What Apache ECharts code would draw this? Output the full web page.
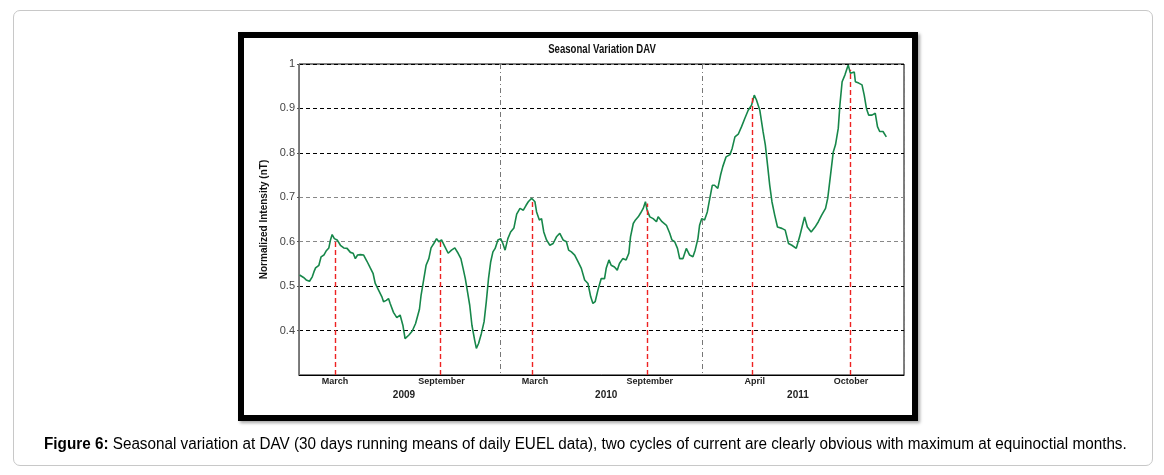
<!DOCTYPE html>
<html>
<head>
<meta charset="utf-8">
<script src="https://cdn.jsdelivr.net/npm/echarts@6/dist/echarts.min.js"></script>
<style>
  html, body { margin: 0; padding: 0; background: #fff; }
  #wrap { position: relative; width: 1164px; height: 475px; overflow: hidden; }
  #outer { position: absolute; left: 13px; top: 10px; width: 1138px; height: 454px; border: 1px solid #c8c8c8; border-radius: 7px; }
  #frame { position: absolute; left: 238px; top: 32px; width: 668px; height: 377px; border: 6px solid #000; box-shadow: 2px 2px 3px rgba(0,0,0,0.35); }
  #chart { position: absolute; left: 0; top: 0; width: 1164px; height: 475px; }
  #caption { position: absolute; left: 44px; top: 435px; font-family: "Liberation Sans", Arial, sans-serif; font-size: 16px; color: #000; white-space: nowrap; transform-origin: 0 50%; }
  #caption b { font-weight: bold; }
</style>
</head>
<body>
<div id="wrap">
  <div id="outer"></div>
  <div id="frame"></div>
  <div id="chart"></div>
  <div id="caption"><b>Figure 6:</b> Seasonal variation at DAV (30 days running means of daily EUEL data), two cycles of current are clearly obvious with maximum at equinoctial months.</div>
</div>
<script>
// Day index counted from 1 January 2009
const days = [1, 9, 13, 19, 24, 27, 30, 36, 40, 45, 49, 54, 57, 60, 64, 69, 75, 81, 87, 93, 98, 102, 106, 111, 117, 123, 129, 134, 138, 144, 150, 153, 158, 162, 165, 171, 177, 183, 188, 192, 199, 205, 211, 218,
  221, 226, 230, 235, 239, 244, 249, 253, 258, 264, 270, 276, 282, 288, 293, 297, 301, 305, 309, 313, 318, 321, 325, 330, 335, 339, 343, 347, 351, 355, 360, 365, 369, 373, 378, 383, 389,
  394, 400, 406, 411, 415, 421, 427, 430, 435,
  439, 443, 448, 454, 460, 466, 472, 478, 484, 488, 493, 499, 505, 511, 517, 523, 528, 532, 536, 541, 547, 553, 556, 561, 565, 571, 576, 580, 586, 592, 597, 600, 605, 609, 614, 618, 623, 627, 630, 635, 641, 647,
  650, 657, 665, 671, 675, 680, 685, 689, 695, 701, 707, 713, 717, 722, 725, 729, 734, 739, 743, 748, 752, 758, 763, 767, 773, 780, 784, 789, 795, 801, 807, 813, 819, 824, 828, 834, 840, 844, 848, 852, 856, 861, 866,
  874, 880, 886, 892, 900, 906, 912, 915, 920, 927, 934, 940, 946, 953, 957, 962, 967, 971, 976, 979, 983, 988, 994, 998, 1005, 1007, 1013, 1019, 1023, 1027, 1031, 1037, 1043, 1047, 1051, 1057, 1060, 1063];
const intensity = [0.525, 0.519, 0.514, 0.511, 0.521, 0.532, 0.541, 0.547, 0.566, 0.570, 0.579, 0.586, 0.604, 0.616, 0.607, 0.604, 0.592, 0.586, 0.585, 0.576, 0.574, 0.562, 0.570, 0.571, 0.570, 0.556, 0.541, 0.529, 0.506, 0.491, 0.476, 0.465, 0.468, 0.472, 0.461, 0.441, 0.429, 0.435, 0.412, 0.382, 0.390, 0.399, 0.416, 0.448,
  0.480, 0.517, 0.547, 0.562, 0.586, 0.596, 0.607, 0.600, 0.604, 0.589, 0.574, 0.581, 0.586, 0.574, 0.562, 0.540, 0.517, 0.487, 0.457, 0.412, 0.378, 0.360, 0.371, 0.393, 0.420, 0.465, 0.517, 0.555, 0.577, 0.585, 0.604, 0.607, 0.596, 0.581, 0.607, 0.622, 0.631,
  0.662, 0.675, 0.671, 0.682, 0.690, 0.698, 0.690, 0.667, 0.649,
  0.652, 0.622, 0.604, 0.592, 0.596, 0.611, 0.619, 0.604, 0.600, 0.581, 0.577, 0.570, 0.555, 0.540, 0.514, 0.506, 0.476, 0.461, 0.465, 0.491, 0.517, 0.517, 0.540, 0.559, 0.547, 0.543, 0.536, 0.551, 0.562, 0.559, 0.574, 0.611, 0.641, 0.649, 0.656, 0.664, 0.675, 0.690, 0.671, 0.656, 0.652, 0.645,
  0.656, 0.645, 0.637, 0.619, 0.604, 0.600, 0.585, 0.562, 0.562, 0.585, 0.570, 0.566, 0.581, 0.607, 0.637, 0.652, 0.649, 0.667, 0.694, 0.727, 0.727, 0.720, 0.750, 0.769, 0.791, 0.796, 0.810, 0.836, 0.842, 0.859, 0.878, 0.896, 0.907, 0.930, 0.919, 0.896, 0.847, 0.818, 0.773, 0.727, 0.690, 0.660, 0.633,
  0.630, 0.626, 0.596, 0.592, 0.585, 0.611, 0.641, 0.656, 0.633, 0.622, 0.633, 0.645, 0.660, 0.675, 0.698, 0.750, 0.802, 0.818, 0.855, 0.908, 0.960, 0.975, 0.998, 0.979, 0.982, 0.960, 0.957, 0.953, 0.930, 0.900, 0.885, 0.885, 0.889, 0.859, 0.848, 0.848, 0.851, 0.836];

// Equinoctial peaks (red dashed markers)
const peakDays = [65, 255, 422, 630, 820, 997];
const peakValues = [0.606, 0.602, 0.692, 0.686, 0.925, 0.987];

// Month tick labels
const monthDays = [65, 258, 427, 635, 825, 999];
const monthLabels = ['March', 'September', 'March', 'September', 'April', 'October'];

// Year labels
const yearDays = [190, 556, 903];
const yearLabels = ['2009', '2010', '2011'];

const FONT = '"Liberation Sans", Arial, sans-serif';
const chart = echarts.init(document.getElementById('chart'), null, { renderer: 'canvas' });

const lineData = days.map((d, i) => [d, intensity[i]]);
const markData = peakDays.map((d, i) => [{ coord: [d, 0.3] }, { coord: [d, peakValues[i]] }]);

chart.setOption({
  animation: false,
  backgroundColor: 'transparent',
  graphic: [{
    type: 'text', x: 602, y: 50, scaleX: 0.8, z: 10,
    style: { text: 'Seasonal Variation DAV', align: 'center', verticalAlign: 'middle', font: 'bold 12px ' + FONT, fill: '#111' }
  }],
  grid: { left: 299, right: 260, top: 64, bottom: 100, show: true, borderColor: '#000', borderWidth: 1, backgroundColor: 'transparent' },
  xAxis: [
    {
      type: 'value', min: 0, max: 1095, interval: 365,
      axisLine: { show: true, lineStyle: { color: '#000', width: 1 } },
      axisTick: { show: false }, axisLabel: { show: false },
      splitLine: { show: true, lineStyle: { color: '#777', width: 1, type: [5, 3, 1, 3] } }
    },
    {
      type: 'value', min: 0, max: 1095, position: 'bottom',
      axisLine: { show: false }, axisTick: { show: false }, splitLine: { show: false },
      axisLabel: {
        show: true, customValues: monthDays, margin: 2,
        fontFamily: FONT, fontSize: 9, fontWeight: 'bold', color: '#222',
        formatter: (v) => monthLabels[monthDays.indexOf(v)] || ''
      }
    },
    {
      type: 'value', min: 0, max: 1095, position: 'bottom', offset: 13,
      axisLine: { show: false }, axisTick: { show: false }, splitLine: { show: false },
      axisLabel: {
        show: true, customValues: yearDays, margin: 2,
        fontFamily: FONT, fontSize: 10, fontWeight: 'bold', color: '#222',
        formatter: (v) => yearLabels[yearDays.indexOf(v)] || ''
      }
    }
  ],
  yAxis: {
    type: 'value', min: 0.3, max: 1, interval: 0.1,
    name: 'Normalized Intensity (nT)', nameLocation: 'middle', nameGap: 30,
    nameTextStyle: { fontFamily: FONT, fontSize: 10, fontWeight: 'bold', color: '#111' },
    axisLine: { show: true, lineStyle: { color: '#777', width: 1 } },
    axisTick: { show: true, length: 2, lineStyle: { color: '#555' } },
    axisLabel: {
      showMinLabel: false, margin: 4,
      fontFamily: FONT, fontSize: 11, color: '#444',
      formatter: (v) => (Math.abs(v - 0.3) < 1e-6 ? '' : String(Math.round(v * 10) / 10))
    },
    splitLine: { show: true, lineStyle: { color: ['#000', '#000', '#000', '#888', '#888', '#000', '#000', '#000'], width: 1, type: [4, 3] } }
  },
  series: [{
    type: 'line', xAxisIndex: 0, yAxisIndex: 0,
    data: lineData, showSymbol: false, smooth: false,
    lineStyle: { color: '#17874a', width: 1.6 },
    markLine: {
      silent: true, symbol: ['none', 'none'], label: { show: false },
      lineStyle: { color: '#ee2222', width: 1.4, type: [5, 3] },
      data: markData
    },
    z: 3
  }]
});

// Fit the caption to the width it occupies in the figure
const cap = document.getElementById('caption');
const w = cap.scrollWidth;
cap.style.transform = 'scaleX(' + (1083 / w) + ')';
</script>
</body>
</html>
